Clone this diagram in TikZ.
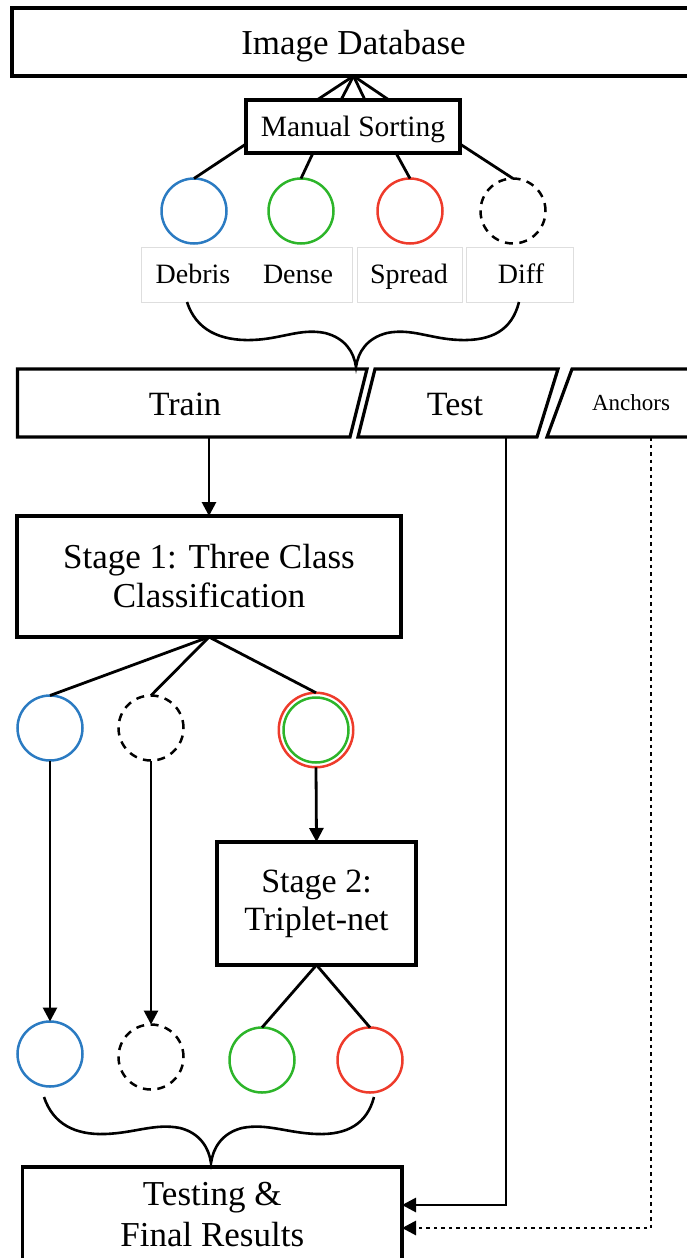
\documentclass[tikz,border=0pt]{standalone}
\usepackage{fontspec}
\setmainfont{Liberation Serif}
\usetikzlibrary{arrows.meta}
\definecolor{cblue}{HTML}{2B7BC2}
\definecolor{cgreen}{HTML}{2DB52A}
\definecolor{cred}{HTML}{EE3B2B}
\definecolor{lblgray}{HTML}{DEDEDE}

\begin{document}
\begin{tikzpicture}[x=1pt,y=-1pt,
  every node/.style={inner sep=0pt, outer sep=0pt},
  box/.style={draw, line width=3.2pt, rectangle, align=center},
  bigtext/.style={font=\fontsize{35}{40}\selectfont},
  midtext/.style={font=\fontsize{29.5}{33}\selectfont},
  lbltext/.style={font=\fontsize{28}{30}\selectfont, anchor=base},
  lblbox/.style={draw=lblgray, line width=0.8pt, rectangle},
  shapeline/.style={line width=3.2pt, line join=miter},
  link/.style={line width=2.8pt},
  arr/.style={line width=2.8pt, -{Triangle[length=14pt,width=14pt]}},
  dotarr/.style={line width=2.8pt, dash pattern=on 3.5pt off 4pt, -{Triangle[length=14pt,width=14pt]}},
  circ/.style={circle, draw, line width=2.5pt, minimum size=65pt},
  dcirc/.style={circ, dash pattern=on 8pt off 6.5pt},
  brace/.style={line width=2.6pt}
]
\useasboundingbox (0,0) rectangle (686,1258);

% database and sorting
\node[box, bigtext, text depth=0pt, minimum width=683pt, minimum height=68pt] (db) at (353.5,42) {Image Database};
\node[box, midtext, text depth=0pt, minimum width=214pt, minimum height=53pt] (sort) at (353,126.5) {Manual Sorting};
\foreach \dx in {-36,-12,12,36}
  \draw[link] (db.south) -- ([xshift=\dx pt]sort.north);

% the four sorted classes
\node[circ, draw=cblue]  (cDebris) at (194,211) {};
\node[circ, draw=cgreen] (cDense)  at (301,211) {};
\node[circ, draw=cred]   (cSpread) at (410,211) {};
\node[dcirc]             (cDiff)   at (513,211) {};
\draw[link] ([yshift=9pt]sort.south west) -- (cDebris.north);
\draw[link] ([xshift=-40pt]sort.south) -- (cDense.north);
\draw[link] ([xshift=43pt]sort.south) -- (cSpread.north);
\draw[link] ([yshift=9pt]sort.south east) -- (cDiff.north);

\node[lblbox, minimum width=211pt, minimum height=55pt] (lb1) at (246.5,274.5) {};
\node[lblbox, minimum width=105pt, minimum height=55pt] (lb2) at (409.5,274.5) {};
\node[lblbox, minimum width=107pt, minimum height=55pt] (lb3) at (519.5,275) {};
\node[lbltext] (tDebris) at (193,283) {Debris};
\node[lbltext] (tDense)  at (298,283) {Dense};
\node[lbltext] (tSpread) at (409,283) {Spread};
\node[lbltext] (tDiff)   at (521,283) {Diff};

% brace gathering the classes
\draw[brace] (187,302) .. controls (196,330) and (220,341) .. (252,340)
  .. controls (282,339) and (300,328) .. (325,333)
  .. controls (345,338) and (354,352) .. (356,367)
  .. controls (358,352) and (367,338) .. (387,333)
  .. controls (412,328) and (430,339) .. (460,340)
  .. controls (492,341) and (512,330) .. (519,302);

% data splits
\draw[shapeline] (17.5,369) -- (367,369) -- (350,437) -- (17.5,437) -- cycle;
\draw[shapeline] (375,369) -- (558,369) -- (537,437) -- (358,437) -- cycle;
\draw[shapeline] (700,369) -- (572,369) -- (547,437) -- (700,437);
\node[font=\fontsize{34}{38}\selectfont, text depth=0pt] (train) at (185,404) {Train};
\node[font=\fontsize{34}{38}\selectfont, text depth=0pt] (test) at (455,404) {Test};
\node[font=\fontsize{23}{26}\selectfont, text depth=0pt] (anchors) at (631,402.5) {Anchors};
\coordinate (trainOut) at (209,437);
\coordinate (testOut) at (506,437);
\coordinate (anchOut) at (651,437);

% stage 1
\node[box, bigtext, minimum width=384pt, minimum height=121pt] (stage1) at (209,576.5)
  {Stage 1: Three Class\\[-1pt]Classification};
\draw[arr] (trainOut) -- (stage1.north);

\node[circ, draw=cblue] (b1) at (50,728) {};
\node[dcirc] (d1) at (151,728) {};
\node[circ, draw=cred, minimum size=74.5pt] (rg) at (316,730) {};
\node[circ, draw=cgreen, minimum size=65pt] (rgIn) at (316,730) {};
\draw[link] (stage1.south) -- (b1.north);
\draw[link] (stage1.south) -- (d1.north);
\draw[link] (stage1.south) -- (rg.north);

% stage 2
\node[box, font=\fontsize{34}{38}\selectfont, minimum width=199pt, minimum height=123pt] (stage2) at (316.5,903.5)
  {Stage 2:\\Triplet-net};
\draw[arr] (rg.south) -- (stage2.north);

% final classes
\node[circ, draw=cblue] (b2) at (50,1054) {};
\node[dcirc] (d2) at (151,1057) {};
\node[circ, draw=cgreen] (g2) at (262,1060) {};
\node[circ, draw=cred] (r2) at (370,1060) {};
\draw[arr] (b1.south) -- (b2.north);
\draw[arr] (d1.south) -- (d2.north);
\draw[link] (stage2.south) -- (g2.north);
\draw[link] (stage2.south) -- (r2.north);

% brace gathering the results
\draw[brace] (44,1097) .. controls (53,1124) and (75,1135) .. (105,1134)
  .. controls (135,1133) and (155,1123) .. (180,1128)
  .. controls (200,1133) and (209,1148) .. (211,1163)
  .. controls (213,1148) and (222,1133) .. (242,1128)
  .. controls (267,1123) and (287,1133) .. (317,1134)
  .. controls (347,1135) and (367,1124) .. (374,1097);

% testing
\node[box, bigtext, minimum width=379.5pt, minimum height=95pt] (final) at (212.25,1214.5)
  {Testing \&\\[1pt]Final Results};
\draw[arr] (testOut) |- ([yshift=9.5pt]final.east);
\draw[dotarr] (anchOut) |- ([yshift=-13.5pt]final.east);
\end{tikzpicture}
\end{document}
